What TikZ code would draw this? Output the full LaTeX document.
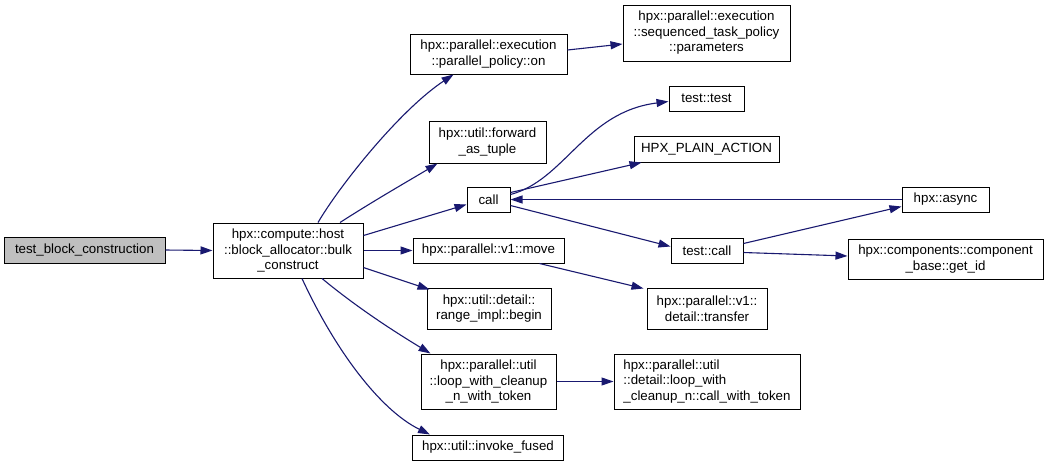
\documentclass[tikz,border=0pt]{standalone}
\usepackage{fontspec}
\setmainfont{Liberation Sans}
\usetikzlibrary{arrows.meta,calc}
\definecolor{edge}{HTML}{191970}
\definecolor{gfill}{HTML}{BFBFBF}
\tikzset{
  fn/.style={draw=black, line width=1pt, fill=white, inner sep=0pt, align=center,
    font=\fontsize{13.3}{15.5}\selectfont},
  fnl/.style={fn, align=left},
  cur/.style={fn, fill=gfill},
  call/.style={draw=edge, line width=1.1pt, -{Triangle[length=12pt,width=8pt]}},
}
\begin{document}
\begin{tikzpicture}[x=1pt,y=-1pt]
\useasboundingbox[fill=white] (0,0) rectangle (1048,467);
\node[cur, minimum width=161pt, minimum height=26pt] (tbc) at (84.5,250) {test\_block\_construction};
\node[fn, minimum width=150pt, minimum height=55pt] (bulk) at (288,250.5) {hpx::compute::host\\::block\_allocator::bulk\\\_construct};
\node[fn, minimum width=157pt, minimum height=40pt] (ppon) at (488.5,54) {hpx::parallel::execution\\::parallel\_policy::on};
\node[fn, minimum width=167pt, minimum height=56pt] (params) at (706.5,33) {hpx::parallel::execution\\::sequenced\_task\_policy\\::parameters};
\node[fn, minimum width=117pt, minimum height=42pt] (fat) at (487.5,142) {hpx::util::forward\\\_as\_tuple};
\node[fn, minimum width=75pt, minimum height=25pt] (ttest) at (706.5,98.5) {test::test};
\node[fn, minimum width=145pt, minimum height=26pt] (hpa) at (706.5,149) {HPX\_PLAIN\_ACTION};
\node[fn, minimum width=43pt, minimum height=25pt] (call) at (488.5,199.5) {call};
\node[fn, minimum width=151pt, minimum height=25pt] (move) at (488.5,250.5) {hpx::parallel::v1::move};
\node[fn, minimum width=72pt, minimum height=25pt] (tcall) at (707,250.5) {test::call};
\node[fn, minimum width=124pt, minimum height=41pt] (begin) at (489,308.5) {hpx::util::detail::\\range\_impl::begin};
\node[fn, minimum width=120pt, minimum height=41pt] (transfer) at (707,308.5) {hpx::parallel::v1::\\detail::transfer};
\node[fn, minimum width=87pt, minimum height=25pt] (async) at (945.5,199.5) {hpx::async};
\node[fn, minimum width=195pt, minimum height=40pt] (getid) at (945.5,259) {hpx::components::component\\\_base::get\_id};
\node[fn, minimum width=135pt, minimum height=55pt] (loop) at (488.5,381.5) {hpx::parallel::util\\::loop\_with\_cleanup\\\_n\_with\_token};
\node[fnl, minimum width=186pt, minimum height=55pt] (cwt) at (707,381.5) {hpx::parallel::util\\::detail::loop\_with\\\_cleanup\_n::call\_with\_token};
\node[fn, minimum width=151pt, minimum height=25pt] (invoke) at (488,447.5) {hpx::util::invoke\_fused};

\draw[call] (tbc.east) -- (bulk.west);
\draw[call] ($(bulk.north)+(30,0)$) .. controls (340,185) and (400,110) .. ($(ppon.south)+(-35,0)$);
\draw[call] (ppon.east |- 0,50) -- (params.west |- 0,44);
\draw[call] ($(bulk.north)+(52,0)$) .. controls (375,200) and (410,180) .. ($(fat.south)+(-50,0)$);
\draw[call] ($(bulk.east)+(0,-15)$) -- ($(call.west)+(0,5)$);
\draw[call] ($(call.east)+(0,-5)$) .. controls (565,180) and (585,112) .. ($(ttest.west)+(0,3)$);
\draw[call] ($(call.east)+(0,-7)$) -- ($(hpa.south west)+(8,0)$);
\draw[call] (async.west |- call.east) -- (call.east);
\draw[call] ($(call.east)+(0,6)$) -- ($(tcall.west)+(0,-4)$);
\draw[call] ($(tcall.east)+(0,-7)$) -- ($(async.south west)+(0,-6)$);
\draw[call] ($(tcall.east)+(0,2)$) -- ($(getid.west)+(0,-3)$);
\draw[call] (bulk.east) -- (move.west);
\draw[call] ($(move.south east)+(-25,0)$) -- ($(transfer.north west)+(-3,1)$);
\draw[call] ($(bulk.east)+(0,17)$) -- ($(begin.north west)+(3,2)$);
\draw[call] ($(bulk.south)+(34,0)$) .. controls (360,310) and (400,335) .. ($(loop.north west)+(10,0)$);
\draw[call] (loop.east) -- (cwt.west);
\draw[call] ($(bulk.south)+(14,0)$) .. controls (335,350) and (380,410) .. ($(invoke.north west)+(18,0)$);
\end{tikzpicture}
\end{document}
